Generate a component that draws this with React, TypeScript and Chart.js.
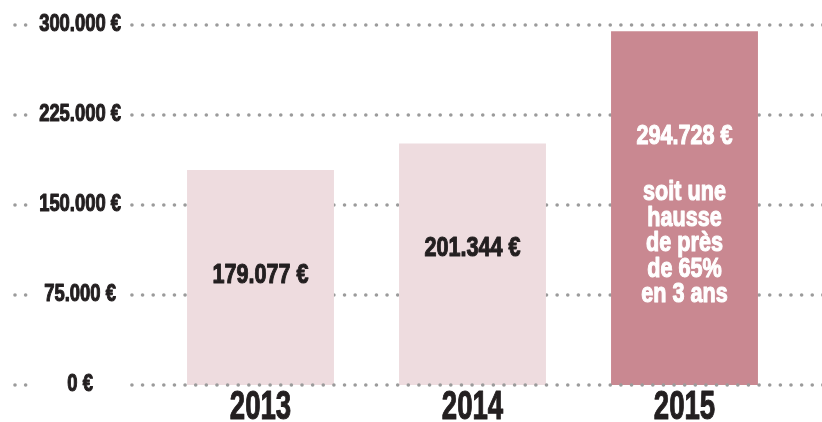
import React, { useEffect, useRef } from "react";
import { Chart, registerables } from "chart.js";

Chart.register(...registerables);

const years = ["2013", "2014", "2015"];
const amounts = [179077, 201344, 294728];
const yTickLabels = ["0 €", "75.000 €", "150.000 €", "225.000 €", "300.000 €"];
const barLabelLines = [
  ["179.077 €"],
  ["201.344 €"],
  ["294.728 €", "", "soit une", "hausse", "de près", "de 65%", "en 3 ans"],
];
const barColors = ["#eedcdf", "#eedcdf", "#c98891"];
const labelColors = ["#231f20", "#231f20", "#ffffff"];

const FONT = '"Liberation Sans", Arial, sans-serif';
const DOT_COLOR = "#9b9b9b";

function condenseFor(font: string): number {
  const m = /(\d+(?:\.\d+)?)px/.exec(font);
  const size = m ? parseFloat(m[1]) : 12;
  return size >= 34 ? 0.69 : 0.8;
}

function drawDotRow(ctx: CanvasRenderingContext2D, y: number, width: number) {
  ctx.save();
  ctx.fillStyle = DOT_COLOR;
  for (let x = 15; x < width + 2; x += 10.63) {
    if (x > 30 && x < 127) continue;
    ctx.beginPath();
    ctx.arc(x, y, 1.8, 0, Math.PI * 2);
    ctx.fill();
  }
  ctx.restore();
}

const dotGridPlugin = {
  id: "dotGrid",
  beforeDatasetsDraw(chart: any) {
    const ys = chart.scales.y;
    ys.ticks.forEach((t: any) => {
      if (t.value === 0) return;
      drawDotRow(chart.ctx, ys.getPixelForValue(t.value), chart.width);
    });
  },
  afterDatasetsDraw(chart: any) {
    const ys = chart.scales.y;
    drawDotRow(chart.ctx, ys.getPixelForValue(0), chart.width);
  },
};

const barTextPlugin = {
  id: "barText",
  afterDatasetsDraw(chart: any) {
    const ctx = chart.ctx;
    const meta = chart.getDatasetMeta(0);
    meta.data.forEach((bar: any, i: number) => {
      const lines = barLabelLines[i];
      ctx.save();
      ctx.font = `bold 27px ${FONT}`;
      ctx.fillStyle = labelColors[i];
      ctx.textAlign = "center";
      ctx.textBaseline = "middle";
      let y = bar.y + 105;
      lines.forEach((line: string, k: number) => {
        if (k > 0) y += line === "" ? 31 : 25.5;
        if (line !== "") ctx.fillText(line, bar.x, y);
      });
      ctx.restore();
    });
  },
};

export default function App() {
  const canvasRef = useRef<HTMLCanvasElement | null>(null);

  useEffect(() => {
    const canvas = canvasRef.current;
    if (!canvas) return;
    const ctx = canvas.getContext("2d") as CanvasRenderingContext2D;
    const origFill = ctx.fillText.bind(ctx);
    const origMeasure = ctx.measureText.bind(ctx);
    (ctx as any).fillText = (text: string, x: number, y: number) => {
      const s = condenseFor(ctx.font);
      ctx.save();
      ctx.translate(x, y);
      ctx.scale(s, 1);
      origFill(text, 0, 0);
      ctx.lineWidth = 1.1;
      ctx.lineJoin = "round";
      ctx.strokeStyle = ctx.fillStyle;
      ctx.strokeText(text, 0, 0);
      ctx.restore();
    };
    (ctx as any).measureText = (text: string) => {
      const m = origMeasure(text);
      const s = condenseFor(ctx.font);
      return {
        width: m.width * s,
        actualBoundingBoxAscent: m.actualBoundingBoxAscent,
        actualBoundingBoxDescent: m.actualBoundingBoxDescent,
        actualBoundingBoxLeft: m.actualBoundingBoxLeft * s,
        actualBoundingBoxRight: m.actualBoundingBoxRight * s,
      };
    };

    const chart = new Chart(canvas, {
      type: "bar",
      data: {
        labels: years,
        datasets: [
          {
            data: amounts,
            backgroundColor: barColors,
            borderWidth: 0,
            categoryPercentage: 1,
            barPercentage: 0.693,
          },
        ],
      },
      options: {
        animation: false,
        responsive: false,
        maintainAspectRatio: false,
        devicePixelRatio: 1,
        layout: { padding: { top: 25, right: 31.5, bottom: 0, left: 0 } },
        plugins: {
          legend: { display: false },
          tooltip: { enabled: false },
        },
        scales: {
          x: {
            grid: { display: false },
            border: { display: false },
            ticks: {
              color: "#231f20",
              font: { family: FONT, size: 40, weight: "bold" },
              padding: -9,
            },
            afterFit: (scale: any) => {
              scale.height = 37;
            },
          },
          y: {
            min: 0,
            max: 300000,
            grid: { display: false },
            border: { display: false },
            ticks: {
              stepSize: 75000,
              crossAlign: "center",
              padding: 25.5,
              color: "#231f20",
              font: { family: FONT, size: 23, weight: "bold" },
              callback: (_v: any, i: number) => yTickLabels[i],
            },
            afterFit: (scale: any) => {
              scale.width = 154.5;
              scale.paddingTop = 0;
              scale.paddingBottom = 0;
            },
          },
        },
      },
      plugins: [dotGridPlugin, barTextPlugin],
    });
    return () => chart.destroy();
  }, []);

  return (
    <div style={{ position: "absolute", left: 0, top: 0, width: 822, height: 422, background: "#ffffff", overflow: "hidden" }}>
      <canvas ref={canvasRef} width={822} height={422} style={{ display: "block", width: 822, height: 422 }} />
    </div>
  );
}
